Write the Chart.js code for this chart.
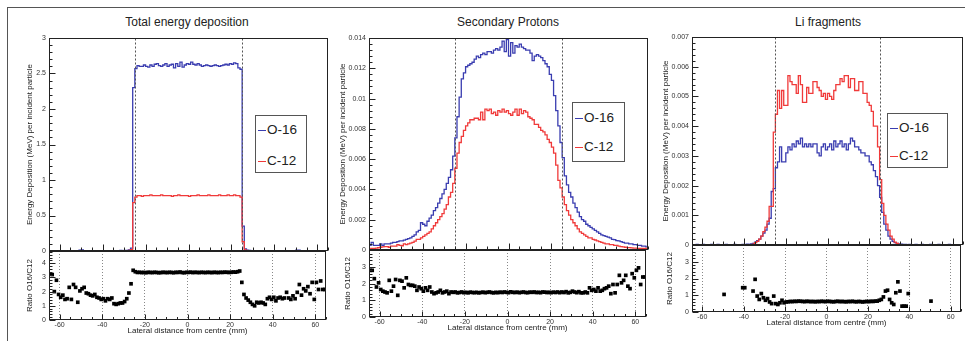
<!DOCTYPE html>
<html>
<head>
<meta charset="utf-8">
<script src="https://cdn.jsdelivr.net/npm/chart.js@4.4.1/dist/chart.umd.min.js"></script>
<style>
  body { margin: 0; background: #fff; width: 965px; height: 341px; overflow: hidden; position: relative;
         font-family: "Liberation Sans", Arial, Helvetica, sans-serif; }
  canvas { position: absolute; }
  .frame { position: absolute; left: 7px; top: 7px; width: 980px; height: 340px;
           border-left: 1px solid #555; border-top: 1px solid #555; }
  .title { position: absolute; font-size: 12px; line-height: 14px; color: #222; white-space: nowrap; transform: translateX(-50%); }
  .legend { position: absolute; border: 1px solid #555; background: #fff; box-sizing: border-box; }
  .entry { position: absolute; left: 2px; height: 16px; line-height: 16px; font-size: 13.5px; color: #222; white-space: nowrap; }
  .swatch { display: inline-block; width: 8px; height: 1.5px; vertical-align: middle; margin-right: 1px; }
</style>
</head>
<body>
<div class="frame"></div>
<script>
const FONT = '"Liberation Sans", Arial, Helvetica, sans-serif';
const BLUE = '#3a3db0';
const RED = '#f03a3a';
const PAD = 10; // vertical canvas padding, larger than half a tick label + its padding

// histogram binning (mm)
const binLow = -65;
const binWidth = 1;
const cutEdges = [-25, 25];          // dashed lines in the upper pads
const xMajor = [-60, -40, -20, 0, 20, 40, 60];

// ---- Total energy deposition ----
const totalO16 = [
  0.005,0.004,0.006,0.005,0.004,0.005,0.006,0.004,0.005,0.006,
  0.005,0.004,0.006,0.005,0.012,0.014,0.006,0.005,0.004,0.005,
  0.006,0.005,0.004,0.006,0.005,0.004,0.005,0.006,0.005,0.004,
  0.006,0.005,0.006,0.007,0.006,0.008,0.010,0.015,
  0.04,2.3,2.57,
  2.61,2.60,2.60,2.62,2.60,2.59,2.62,2.60,2.63,2.64,
  2.61,2.60,2.62,2.64,2.60,2.62,2.63,2.58,2.64,2.60,
  2.66,2.59,2.62,2.64,2.63,2.66,2.63,2.62,2.64,2.62,
  2.60,2.61,2.62,2.61,2.60,2.61,2.62,2.61,2.60,2.61,
  2.62,2.63,2.62,2.64,2.63,2.65,2.64,
  2.58,2.56,0.35,0.03,
  0.012,0.008,0.006,0.005,0.006,0.005,0.004,0.006,0.005,0.004,
  0.005,0.006,0.005,0.004,0.006,0.005,0.004,0.005,0.006,0.005,
  0.004,0.006,0.005,0.012,0.013,0.006,0.005,0.004,0.005,0.006,
  0.005,0.004,0.006,0.005,0.004,0.005,0.006,0.005
];
const totalC12 = [
  0.002,0.002,0.003,0.002,0.002,0.003,0.003,0.002,0.002,0.003,
  0.003,0.002,0.003,0.002,0.005,0.006,0.003,0.003,0.002,0.003,
  0.004,0.003,0.003,0.004,0.003,0.003,0.004,0.004,0.004,0.003,
  0.004,0.004,0.005,0.005,0.005,0.005,0.006,0.008,
  0.02,0.68,0.76,
  0.78,0.78,0.77,0.78,0.78,0.78,0.79,0.78,0.78,0.78,
  0.78,0.79,0.78,0.78,0.78,0.78,0.77,0.78,0.78,0.79,
  0.78,0.78,0.78,0.78,0.77,0.78,0.78,0.78,0.79,0.78,
  0.78,0.78,0.78,0.79,0.78,0.78,0.78,0.78,0.79,0.78,
  0.78,0.78,0.79,0.78,0.78,0.79,0.78,
  0.78,0.76,0.13,0.016,
  0.006,0.005,0.005,0.004,0.004,0.004,0.003,0.004,0.004,0.003,
  0.003,0.004,0.003,0.003,0.004,0.003,0.003,0.003,0.004,0.003,
  0.002,0.003,0.003,0.006,0.005,0.003,0.002,0.002,0.002,0.003,
  0.002,0.002,0.003,0.002,0.002,0.002,0.003,0.002
];
const totalRatio = [
  3.25,3.2,2.0,2.8,1.8,1.6,1.75,1.45,1.5,2.3,
  1.45,2.5,2.3,1.25,2.05,2.2,2.3,1.9,1.85,1.75,
  1.7,1.8,1.6,1.55,1.45,1.5,1.35,1.5,1.45,1.55,
  1.15,1.1,1.15,1.2,1.2,1.3,1.5,1.9,2.55,
  3.5,3.4,3.35,3.36,3.34,3.35,3.33,3.36,3.35,3.34,
  3.36,3.35,3.33,3.34,3.36,3.35,3.34,3.36,3.35,3.33,
  3.36,3.35,3.38,3.34,3.33,3.36,3.35,3.37,3.34,3.36,
  3.35,3.34,3.36,3.35,3.34,3.36,3.35,3.34,3.36,3.35,
  3.34,3.36,3.35,3.37,3.36,3.35,3.36,3.38,3.37,3.4,
  3.45,
  2.65,1.8,1.55,1.4,1.25,1.1,1.0,1.25,1.2,1.25,
  1.2,1.1,1.5,1.6,1.45,1.6,1.35,1.55,1.6,1.5,
  1.55,1.95,1.55,1.45,1.7,1.5,1.95,2.5,1.75,2.2,
  2.05,2.35,1.85,2.65,1.45,2.65,2.15,2.75,2.15,2.15
];

// ---- Secondary protons ----
const protonO16 = [
  0.0003,0.0005,0.0003,0.0003,0.0003,0.0004,0.0003,0.0004,0.0004,0.0004,
  0.00045,0.0005,0.0005,0.00055,0.0006,0.0006,0.00065,0.0007,0.00075,0.0008,
  0.0009,0.001,0.0012,0.0013,0.0018,0.0017,0.0016,0.0019,0.0021,0.0023,
  0.0026,0.0028,0.0031,0.0034,0.0037,0.004,0.0044,0.0048,0.0053,0.0062,
  0.0074,0.0088,0.0101,0.0113,0.0117,0.0121,0.0122,0.0123,0.0124,0.0126,
  0.0128,0.0127,0.0129,0.013,0.0129,0.0131,0.0131,0.013,0.0132,0.0133,
  0.0132,0.0134,0.0138,0.0131,0.0139,0.0128,0.0137,0.013,0.0135,0.0134,
  0.0136,0.0134,0.0133,0.0132,0.0132,0.013,0.0125,0.0128,0.0129,0.0128,
  0.0127,0.0125,0.0123,0.0121,0.0116,0.0112,0.0102,0.0092,0.0082,0.0071,
  0.0061,0.0049,0.0043,0.0038,0.0035,0.0031,0.0028,0.0025,0.0022,0.002,
  0.0019,0.0017,0.0016,0.0015,0.0014,0.0013,0.0012,0.0011,0.001,0.00095,
  0.0009,0.00085,0.0008,0.0007,0.00068,0.00062,0.0006,0.00055,0.0005,0.00045,
  0.00045,0.0004,0.0004,0.00035,0.00035,0.0003,0.0003,0.00025,0.00025,0.0002
];
const protonC12 = [
  0.0001,0.0001,0.0001,0.00012,0.00015,0.00018,0.0002,0.00022,0.00022,0.00018,
  0.00025,0.00025,0.00025,0.00035,0.0003,0.00028,0.0004,0.00035,0.0004,0.00045,
  0.0005,0.00058,0.0007,0.0007,0.0008,0.0009,0.001,0.0011,0.0012,0.0014,
  0.0016,0.0018,0.002,0.0022,0.0024,0.0027,0.003,0.0035,0.0038,0.0044,
  0.0054,0.0064,0.0071,0.0075,0.0079,0.0082,0.0084,0.0086,0.0086,0.0087,
  0.0087,0.0086,0.0091,0.0086,0.0093,0.0092,0.0093,0.009,0.0091,0.0089,
  0.0092,0.0091,0.0093,0.0091,0.0092,0.009,0.0089,0.0091,0.0093,0.0089,
  0.0093,0.009,0.0092,0.0091,0.0088,0.0087,0.0086,0.0083,0.0083,0.0081,
  0.0079,0.0078,0.0076,0.0073,0.0071,0.0068,0.0064,0.0056,0.0046,0.0041,
  0.0035,0.003,0.0026,0.0023,0.002,0.0018,0.0016,0.0014,0.0012,0.0011,
  0.001,0.0009,0.0008,0.0008,0.0007,0.00066,0.0006,0.00055,0.0005,0.00045,
  0.0004,0.0004,0.00035,0.00035,0.0003,0.0003,0.00025,0.00022,0.0002,0.00018,
  0.00016,0.00016,0.00014,0.00012,0.00012,0.0001,0.0001,0.0001,0.0001,0.0001
];
const protonRatio = [
  2.8,2.8,2.3,1.8,2.05,1.65,1.55,1.5,1.45,2.2,
  1.55,1.85,2.25,1.3,2.2,2.15,1.75,2.35,1.95,1.9,
  1.9,1.85,1.6,1.8,1.7,1.55,1.75,1.6,1.8,1.5,
  1.4,1.45,1.5,1.6,1.45,1.5,1.55,1.4,1.5,
  1.48,1.5,1.45,1.47,1.5,1.46,1.48,1.45,1.49,1.47,
  1.46,1.48,1.45,1.47,1.49,1.46,1.48,1.5,1.47,1.45,
  1.48,1.46,1.49,1.47,1.5,1.48,1.46,1.51,1.48,1.47,
  1.49,1.46,1.48,1.5,1.47,1.46,1.49,1.48,1.5,1.47,
  1.48,1.46,1.5,1.49,1.47,1.48,1.46,1.49,1.47,1.5,1.46,
  1.5,1.47,1.52,1.45,1.48,1.55,1.5,1.46,1.52,1.45,
  1.45,1.5,1.45,1.75,1.6,1.65,1.55,1.75,1.55,1.6,
  1.7,1.75,1.85,1.4,1.95,1.45,1.95,2.5,2.05,2.2,
  2.5,1.85,1.7,2.6,2.35,2.8,2.95,1.95,2.4,2.4
];

// ---- Li fragments ----
const liO16 = [
  0,0,0.00002,0,0,0.00002,0,0,0,0.00002,
  0,0,0.00002,0,0,0,0.00002,0,0,0,
  0.00002,0,0,0,0.00002,0,0.00003,0.00002,0.00004,
  0.00005,0.0001,0.00015,0.0002,0.0003,0.0004,0.0005,0.0007,0.0009,0.0018,
  0.0019,0.0026,0.0028,0.0033,0.0028,0.0028,0.0031,0.0033,0.0032,0.0034,
  0.0033,0.0035,0.0034,0.0036,0.0033,0.0034,0.0033,0.0034,0.0033,0.0034,
  0.0034,0.0031,0.003,0.0033,0.0034,0.0032,0.0033,0.0034,0.0032,0.0035,
  0.0033,0.0034,0.0035,0.0033,0.0034,0.0032,0.0034,0.0036,0.0035,0.0033,
  0.0033,0.0032,0.0031,0.0031,0.003,0.003,0.0028,0.0027,0.0025,0.0023,
  0.002,0.0016,0.0011,0.0007,0.0005,0.0003,0.0002,0.00012,0.00008,0.00005,
  0.00004,0.00003,0.00002,0.00002,0,0.00002,0,0,0.00002,0,
  0,0.00002,0,0,0,0.00002,0,0,0,0.00002,
  0,0,0,0,0.00002,0,0,0,0,0,0
];
const liC12 = [
  0,0,0,0,0,0,0,0,0,0,
  0,0,0,0,0,0,0,0,0,0,
  0,0,0,0,0,0,0,0,0.00001,
  0.00003,0.00008,0.00012,0.0002,0.0003,0.00045,0.0006,0.0008,0.0013,0.0013,
  0.0038,0.0044,0.0052,0.0046,0.0052,0.0047,0.0047,0.0057,0.0055,0.0054,
  0.0054,0.0051,0.0057,0.0054,0.0048,0.0048,0.0053,0.0051,0.0051,0.0055,
  0.0055,0.0053,0.0052,0.005,0.0051,0.0049,0.0051,0.005,0.0049,0.0052,
  0.0054,0.0054,0.0056,0.0055,0.0057,0.0057,0.0053,0.0056,0.0056,0.0052,
  0.0052,0.0055,0.0055,0.0051,0.0051,0.0048,0.0047,0.0045,0.004,0.004,
  0.0033,0.0022,0.0014,0.001,0.0007,0.0005,0.0003,0.0002,0.0001,0.00005,
  0.00002,0,0,0,0,0,0,0,0,0,
  0,0,0,0,0,0,0,0,0,0,
  0,0,0,0,0,0,0,0,0,0,0
];
const liRatio = [
  null,null,null,null,null,null,null,null,null,null,
  null,null,null,null,null,1.05,null,null,null,null,
  null,null,null,null,1.45,1.45,null,null,null,
  1.25,1.95,0.95,0.75,1.1,0.85,0.7,0.8,0.6,0.5,
  0.95,0.5,0.45,0.55,0.7,0.55,
  0.6,0.61,0.63,0.62,0.64,0.63,0.65,0.64,0.63,0.62,
  0.64,0.63,0.62,0.63,0.61,0.63,0.62,0.64,0.63,0.62,
  0.64,0.63,0.62,0.61,0.63,0.64,0.62,0.63,0.62,0.61,
  0.63,0.62,0.64,0.62,0.61,0.63,0.62,0.6,0.62,0.63,
  0.62,0.64,0.63,0.65,
  0.65,0.7,0.75,0.9,1.25,1.3,0.75,0.55,0.45,1.15,
  1.8,1.25,0.35,0.35,0.35,1.1,
  null,null,null,null,null,null,null,null,null,null,
  0.65,
  null,null,null,null,null,null,null,null,null,null,null,null,null,null
];

// tick labels
const totalYTicks = [0, 0.5, 1, 1.5, 2, 2.5, 3];
const protonYTicks = [0, 0.002, 0.004, 0.006, 0.008, 0.01, 0.012, 0.014];
const liYTicks = [0, 0.001, 0.002, 0.003, 0.004, 0.005, 0.006, 0.007];
const ratioTicksWide = [0, 1, 2, 3, 4];
const ratioTicksNarrow = [0, 1, 2, 3];

const panels = [
  { title: 'Total energy deposition', o16: totalO16, c12: totalC12, ratio: totalRatio,
    yMax: 3, yTicks: totalYTicks, yMinor: 0.1, rMax: 4.86, rTicks: ratioTicksWide,
    left: 49, right: 328, top: 38, mid: 251, bottom: 320, yTitleX: 30, rTitleX: 30, titleX: 187,
    legend: { left: 255, top: 115, w: 52, h: 58, rows: [15, 46] } },
  { title: 'Secondary Protons', o16: protonO16, c12: protonC12, ratio: protonRatio,
    yMax: 0.014, yTicks: protonYTicks, yMinor: 0.0004, rMax: 4.02, rTicks: ratioTicksNarrow,
    left: 369, right: 648, top: 38, mid: 250, bottom: 317, yTitleX: 343, rTitleX: 348, titleX: 508,
    legend: { left: 572, top: 102, w: 53, h: 60, rows: [16, 45] } },
  { title: 'Li fragments', o16: liO16, c12: liC12, ratio: liRatio,
    yMax: 0.007, yTicks: liYTicks, yMinor: 0.0002, rMax: 4.0, rTicks: ratioTicksNarrow,
    left: 692, right: 963, top: 37, mid: 245, bottom: 312, yTitleX: 666, rTitleX: 670, titleX: 828,
    legend: { left: 887, top: 113, w: 61, h: 55, rows: [15, 43] } }
];

function toPoints(arr) {
  return arr.map((v, i) => ({ x: binLow + (i + 0.5) * binWidth, y: v })).filter(p => p.y !== null);
}

function eachTick(scale, majors, step, fn) {
  const first = Math.ceil(scale.min / step - 1e-6);
  const last = Math.floor(scale.max / step + 1e-6);
  for (let k = first; k <= last; k++) {
    const v = k * step;
    fn(v, majors.some(m => Math.abs(m - v) < step / 100));
  }
}

// ROOT-like frame with inward ticks, plus the dashed field edges
const framePlugin = {
  id: 'frame',
  afterDatasetsDraw(chart, args, o) {
    const { ctx, chartArea: a, scales: { x, y } } = chart;
    const L = Math.round(a.left) + 0.5, R = Math.round(a.right) - 0.5;
    const T = Math.round(a.top) + 0.5, B = Math.round(a.bottom) - 0.5;
    ctx.save();
    ctx.lineWidth = 1;
    if (o.cuts) {
      ctx.strokeStyle = '#555';
      ctx.setLineDash([2, 2]);
      o.cuts.forEach(c => {
        const px = Math.round(x.getPixelForValue(c)) + 0.5;
        ctx.beginPath(); ctx.moveTo(px, T); ctx.lineTo(px, B); ctx.stroke();
      });
      ctx.setLineDash([]);
    }
    ctx.strokeStyle = '#222';
    ctx.strokeRect(L, T, R - L, B - T);
    ctx.beginPath();
    eachTick(x, o.xMajor, o.xMinor, (v, major) => {
      const px = Math.round(x.getPixelForValue(v)) + 0.5;
      ctx.moveTo(px, B); ctx.lineTo(px, B - (major ? o.xLen : o.xLen / 2));
    });
    eachTick(y, o.yMajor, o.yMinor, (v, major) => {
      const py = Math.round(y.getPixelForValue(v)) + 0.5;
      ctx.moveTo(L, py); ctx.lineTo(L + (major ? o.yLen : o.yLen / 2), py);
    });
    ctx.stroke();
    ctx.restore();
  }
};

function addCanvas(left, top, w, h) {
  const cv = document.createElement('canvas');
  cv.width = w; cv.height = h;
  cv.style.left = left + 'px'; cv.style.top = top + 'px';
  cv.style.width = w + 'px'; cv.style.height = h + 'px';
  document.body.appendChild(cv);
  return cv;
}

function yAxis(max, ticks, width, title) {
  return {
    type: 'linear', min: 0, max: max,
    afterBuildTicks: s => { s.ticks = ticks.map(v => ({ value: v })); },
    afterFit: s => { s.width = width; },
    grid: { display: false, drawTicks: false },
    border: { display: false },
    ticks: { font: { size: 7, family: FONT }, color: '#333', padding: 3, autoSkip: false, callback: v => String(v) },
    title: { display: true, text: title, font: { size: 8, family: FONT }, color: '#222', padding: 0 }
  };
}

panels.forEach(p => {
  const plotW = p.right - p.left;

  const t = document.createElement('div');
  t.className = 'title';
  t.style.left = p.titleX + 'px'; t.style.top = '15px';
  t.textContent = p.title;
  document.body.appendChild(t);

  // upper pad
  const yW = Math.round(p.left - p.yTitleX + 4.8);
  const mainCv = addCanvas(p.left - yW, p.top - PAD, yW + plotW + 2, p.mid - p.top + 2 * PAD);
  new Chart(mainCv, {
    type: 'line',
    data: {
      datasets: [
        { label: 'O-16', data: toPoints(p.o16), borderColor: BLUE, borderWidth: 1.3, pointRadius: 0, stepped: 'middle', fill: false, order: 1 },
        { label: 'C-12', data: toPoints(p.c12), borderColor: RED, borderWidth: 1.3, pointRadius: 0, stepped: 'middle', fill: false, order: 0 }
      ]
    },
    options: {
      responsive: false, animation: false, devicePixelRatio: 1,
      layout: { padding: { top: PAD, right: 2, bottom: PAD, left: 0 } },
      plugins: {
        legend: { display: false }, tooltip: { enabled: false },
        frame: { cuts: cutEdges, xMajor: xMajor, xMinor: 5, xLen: 6, yMajor: p.yTicks, yMinor: p.yMinor, yLen: 6 }
      },
      scales: {
        x: { type: 'linear', min: -65, max: 65, display: false },
        y: yAxis(p.yMax, p.yTicks, yW, 'Energy Deposition (MeV) per incident particle')
      }
    },
    plugins: [framePlugin]
  });

  // ratio pad
  const rW = Math.round(p.left - p.rTitleX + 4.8);
  const ratioCv = addCanvas(p.left - rW, p.mid - PAD, rW + plotW + 2, p.bottom - p.mid + PAD + 16);
  new Chart(ratioCv, {
    type: 'scatter',
    data: {
      datasets: [
        { label: 'Ratio O16/C12', data: toPoints(p.ratio), pointStyle: 'rect', pointRadius: 2.6,
          backgroundColor: '#000', borderWidth: 0 }
      ]
    },
    options: {
      responsive: false, animation: false, devicePixelRatio: 1,
      layout: { padding: { top: PAD, right: 2, bottom: 0, left: 0 } },
      plugins: {
        legend: { display: false }, tooltip: { enabled: false },
        frame: { xMajor: xMajor, xMinor: 5, xLen: 5, yMajor: p.rTicks, yMinor: 0.2, yLen: 6 }
      },
      scales: {
        x: {
          type: 'linear', min: -65, max: 65,
          afterBuildTicks: s => { s.ticks = xMajor.map(v => ({ value: v })); },
          afterFit: s => { s.height = 16; },
          grid: { display: true, color: '#888', lineWidth: 1, drawTicks: false },
          border: { display: false, dash: [1, 2] },
          ticks: { font: { size: 7, family: FONT }, color: '#333', padding: 1, maxRotation: 0, autoSkip: false },
          title: { display: true, text: 'Lateral distance from centre (mm)', font: { size: 8, family: FONT }, color: '#222', padding: 0 }
        },
        y: yAxis(p.rMax, p.rTicks, rW, 'Ratio O16/C12')
      }
    },
    plugins: [framePlugin]
  });

  // legend box
  const lg = document.createElement('div');
  lg.className = 'legend';
  lg.style.left = p.legend.left + 'px'; lg.style.top = p.legend.top + 'px';
  lg.style.width = p.legend.w + 'px'; lg.style.height = p.legend.h + 'px';
  [['O-16', BLUE], ['C-12', RED]].forEach(([name, col], i) => {
    const e = document.createElement('div');
    e.className = 'entry';
    e.style.top = (p.legend.rows[i] - 9) + 'px';
    const sw = document.createElement('span');
    sw.className = 'swatch';
    sw.style.background = col;
    e.appendChild(sw);
    e.appendChild(document.createTextNode(name));
    lg.appendChild(e);
  });
  document.body.appendChild(lg);
});
</script>
</body>
</html>
